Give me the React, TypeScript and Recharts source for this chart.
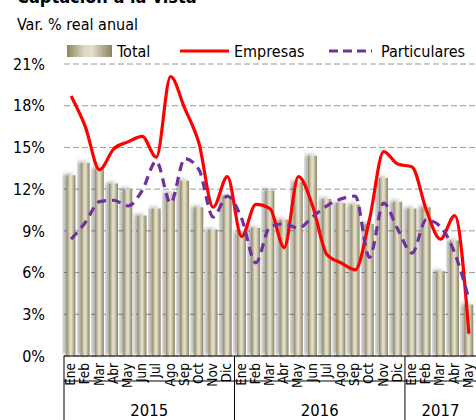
import React from "react";
import { ComposedChart, Bar, Line, XAxis, YAxis, CartesianGrid } from "recharts";

// Meses Ene-2015 .. May-2017
const meses = [
  "Ene", "Feb", "Mar", "Abr", "May", "Jun", "Jul", "Ago", "Sep", "Oct", "Nov", "Dic",
  "Ene", "Feb", "Mar", "Abr", "May", "Jun", "Jul", "Ago", "Sep", "Oct", "Nov", "Dic",
  "Ene", "Feb", "Mar", "Abr", "May",
];
const anios = ["2015", "2016", "2017"];
const mesesPorAnio = [12, 12, 5];

const total = [
  13.0, 13.9, 13.5, 12.4, 12.0, 10.1, 10.6, 11.7, 12.6, 10.7, 9.1, 11.5,
  8.9, 9.2, 11.9, 9.8, 12.5, 14.4, 11.3, 11.0, 10.9, 9.5, 12.8, 11.1,
  10.6, 10.7, 6.1, 8.3, 3.7,
];
const empresas = [
  18.7, 16.5, 13.4, 14.9, 15.4, 15.8, 14.3, 20.1, 17.8, 15.3, 10.7, 12.9,
  8.6, 10.9, 10.6, 7.8, 12.9, 10.8, 7.3, 6.7, 6.2, 9.8, 14.7, 13.8,
  13.6, 10.5, 8.4, 10.1, 1.6,
];
const particulares = [
  8.4, 9.6, 11.1, 11.2, 10.8, 11.9, 14.0, 11.0, 14.2, 13.4, 10.0, 11.5,
  9.9, 6.7, 9.3, 9.5, 9.2, 10.0, 10.8, 11.3, 11.5, 7.1, 11.0, 9.1,
  7.4, 9.8, 9.3, 7.4, 4.1,
];
const yTicks = [0, 3, 6, 9, 12, 15, 18, 21];

const FONT = "'Liberation Sans Narrow', 'DejaVu Sans Condensed', 'Arial Narrow', sans-serif";

// primer índice de cada año
const inicios: number[] = [];
mesesPorAnio.reduce((acc, n) => {
  inicios.push(acc);
  return acc + n;
}, 0);

const data = meses.map((m, i) => ({
  key: `${m}-${i}`,
  mes: m,
  total: total[i],
  empresas: empresas[i],
  particulares: particulares[i],
}));

function MesTick(props: any) {
  const { x, y, payload, index } = props;
  const off = payload && payload.offset ? payload.offset : 7.1;
  const i = index ?? payload.index;
  const g = inicios.indexOf(i);
  return (
    <g>
      <text
        transform={`translate(${x + 4},${y + 7}) rotate(-90)`}
        textAnchor="end"
        fontSize={13.5}
        fontFamily={FONT}
        fill="#000"
      >
        {meses[i]}
      </text>
      <line x1={x - off} x2={x + off} y1={381} y2={381} stroke="#000" strokeWidth={1} />
      {g >= 0 && (
        <>
          <line x1={x - off} x2={x - off} y1={y} y2={420} stroke="#000" strokeWidth={1} />
          <text
            x={x - off + mesesPorAnio[g] * off}
            y={416}
            textAnchor="middle"
            fontSize={16.5}
            fontFamily={FONT}
            fill="#000"
          >
            {anios[g]}
          </text>
        </>
      )}
    </g>
  );
}

export default function App() {
  return (
    <div style={{ position: "absolute", left: 0, top: 0, width: 476, height: 420, overflow: "hidden", background: "#fff" }}>
      <ComposedChart
        width={476}
        height={420}
        data={data}
        margin={{ top: 64, right: 0, bottom: 0, left: 0 }}
        barCategoryGap="17%"
      >
        <defs>
          <linearGradient id="gradTotal" x1="0" y1="0" x2="1" y2="0">
            <stop offset="0%" stopColor="#8c845e" />
            <stop offset="38%" stopColor="#dcd7c1" />
            <stop offset="55%" stopColor="#e3e0cd" />
            <stop offset="100%" stopColor="#8a825c" />
          </linearGradient>
          <filter id="sombra" x="-40%" y="-10%" width="160%" height="120%">
            <feDropShadow dx="-3" dy="-1" stdDeviation="2" floodColor="#000" floodOpacity="0.35" />
          </filter>
        </defs>
        <CartesianGrid vertical={false} stroke="#9a9a9a" strokeDasharray="6 3" />
        <XAxis
          dataKey="key"
          interval={0}
          tickLine={false}
          tickSize={0}
          tickMargin={0}
          height={64}
          axisLine={{ stroke: "#000", strokeWidth: 1 }}
          tick={<MesTick />}
        />
        <YAxis
          width={64}
          domain={[0, 21]}
          ticks={yTicks}
          interval={0}
          axisLine={false}
          tickLine={false}
          tickSize={0}
          tickMargin={19}
          tickFormatter={(v: number) => `${v}%`}
          tick={{ fill: "#000", fontSize: 16, fontFamily: FONT }}
        />
        <Bar dataKey="total" fill="url(#gradTotal)" filter="url(#sombra)" isAnimationActive={false} />
        <Line
          type="monotone"
          dataKey="empresas"
          stroke="#ff0000"
          strokeWidth={3.2}
          dot={false}
          isAnimationActive={false}
        />
        <Line
          type="monotone"
          dataKey="particulares"
          stroke="#7030a0"
          strokeWidth={3.2}
          strokeDasharray="9 6"
          dot={false}
          isAnimationActive={false}
        />
      </ComposedChart>

      <svg width={476} height={70} style={{ position: "absolute", left: 0, top: 0, pointerEvents: "none" }}>
        <defs>
          <linearGradient id="gradLeyenda" x1="0" y1="0" x2="1" y2="0">
            <stop offset="0%" stopColor="#8c845e" />
            <stop offset="38%" stopColor="#dcd7c1" />
            <stop offset="55%" stopColor="#e3e0cd" />
            <stop offset="100%" stopColor="#8a825c" />
          </linearGradient>
        </defs>
        <text x={17} y={3} fontSize={18} fontWeight="bold" fontFamily={FONT} fill="#000">
          Captación a la vista
        </text>
        <text x={17} y={30} fontSize={16} fontFamily={FONT} fill="#000">
          Var. % real anual
        </text>
        <rect x={67} y={45} width={45} height={12} fill="url(#gradLeyenda)" />
        <text x={117} y={57} fontSize={16} fontFamily={FONT} fill="#000">Total</text>
        <line x1={180} x2={229} y1={51} y2={51} stroke="#ff0000" strokeWidth={3.2} />
        <text x={234} y={57} fontSize={16} fontFamily={FONT} fill="#000">Empresas</text>
        <line x1={329} x2={372} y1={51} y2={51} stroke="#7030a0" strokeWidth={3.2} strokeDasharray="9 5" />
        <text x={381} y={57} fontSize={16} fontFamily={FONT} fill="#000">Particulares</text>
      </svg>
    </div>
  );
}
